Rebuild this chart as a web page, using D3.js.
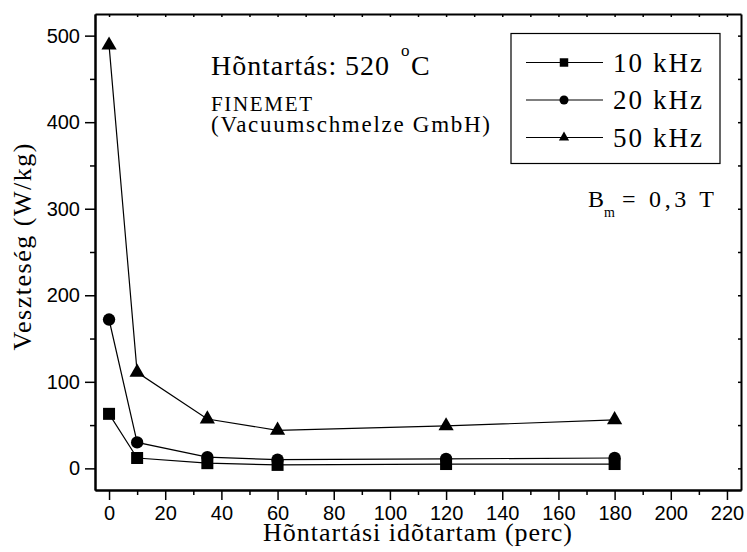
<!DOCTYPE html>
<html>
<head>
<meta charset="utf-8">
<script src="https://cdn.jsdelivr.net/npm/d3@7"></script>
<style>
  body { margin: 0; background: #fff; }
  svg { display: block; }
  .axis path, .axis line { stroke: #000; }
  .axis text { font-family: "Liberation Sans", Arial, sans-serif; font-size: 20px; fill: #000; }
  .serif { font-family: "Liberation Serif", "Times New Roman", serif; fill: #000; }
</style>
</head>
<body>
<script>
  // data
  var times = [0, 10, 35, 60, 120, 180];
  var loss10 = [63, 12, 6, 4, 5, 5];
  var loss20 = [172, 30, 13, 10, 11, 12];
  var loss50 = [489, 111, 57, 44, 49, 56];
  var seriesNames = ['10 kHz', '20 kHz', '50 kHz'];

  var xMajorTicks = [0, 20, 40, 60, 80, 100, 120, 140, 160, 180, 200, 220];
  var xMinorTicks = [10, 30, 50, 70, 90, 110, 130, 150, 170, 190, 210];
  var yMajorTicks = [0, 100, 200, 300, 400, 500];
  var yMinorTicks = [50, 150, 250, 350, 450];

(function() {
  var width = 747;
  var height = 552;
  var plotLeft = 95, plotRight = 741, plotTop = 14, plotBottom = 490;

  var xScale = d3.scaleLinear().domain([-5, 225]).range([plotLeft, plotRight]);
  var yScale = d3.scaleLinear().domain([-25, 525]).range([plotBottom, plotTop]);

  var svg = d3.select('body')
    .append('svg')
    .attr('width', width)
    .attr('height', height);

  function styleAxis(g, w) {
    g.select('.domain').attr('stroke-width', w);
    g.selectAll('.tick line').attr('stroke-width', 1.5);
  }

  // bottom axis
  svg.append('g')
    .attr('class', 'axis')
    .attr('transform', `translate(0, ${plotBottom})`)
    .call(d3.axisBottom(xScale).tickValues(xMajorTicks).tickSize(10).tickSizeOuter(0).tickPadding(6))
    .call(styleAxis, 2);
  svg.append('g')
    .attr('class', 'axis')
    .attr('transform', `translate(0, ${plotBottom})`)
    .call(d3.axisBottom(xScale).tickValues(xMinorTicks).tickSize(5).tickSizeOuter(0).tickFormat(''))
    .call(styleAxis, 2);

  // left axis
  svg.append('g')
    .attr('class', 'axis')
    .attr('transform', `translate(${plotLeft}, 0)`)
    .call(d3.axisLeft(yScale).tickValues(yMajorTicks).tickSize(10).tickSizeOuter(0).tickPadding(5))
    .call(styleAxis, 2);
  svg.append('g')
    .attr('class', 'axis')
    .attr('transform', `translate(${plotLeft}, 0)`)
    .call(d3.axisLeft(yScale).tickValues(yMinorTicks).tickSize(5).tickSizeOuter(0).tickFormat(''))
    .call(styleAxis, 2);

  // top and right mirror axes, small inward ticks
  svg.append('g')
    .attr('class', 'axis')
    .attr('transform', `translate(0, ${plotTop})`)
    .call(d3.axisTop(xScale).tickValues(xMajorTicks.concat(xMinorTicks)).tickSize(-3).tickSizeOuter(0).tickFormat(''))
    .call(styleAxis, 2);
  svg.append('g')
    .attr('class', 'axis')
    .attr('transform', `translate(${plotRight}, 0)`)
    .call(d3.axisRight(yScale).tickValues(yMajorTicks.concat(yMinorTicks)).tickSize(-3).tickSizeOuter(0).tickFormat(''))
    .call(styleAxis, 2);

  // series
  var series = [
    { name: seriesNames[0], values: loss10, symbol: d3.symbolSquare, size: 144, legendSize: 72 },
    { name: seriesNames[1], values: loss20, symbol: d3.symbolCircle, size: 120, legendSize: 64 },
    { name: seriesNames[2], values: loss50, symbol: d3.symbolTriangle, size: 100, legendSize: 45 }
  ];

  var line = d3.line()
    .x(d => xScale(d[0]))
    .y(d => yScale(d[1]));

  series.forEach(function(s) {
    var pts = times.map((t, i) => [t, s.values[i]]);
    svg.append('path')
      .datum(pts)
      .attr('d', line)
      .attr('fill', 'none')
      .attr('stroke', '#000')
      .attr('stroke-width', 1.2);
    svg.selectAll(null)
      .data(pts)
      .enter()
      .append('path')
      .attr('d', d3.symbol().type(s.symbol).size(s.size))
      .attr('transform', d => `translate(${xScale(d[0])}, ${yScale(d[1])})`)
      .attr('fill', '#000');
  });

  // legend
  var legend = svg.append('g');
  legend.append('rect')
    .attr('x', 511).attr('y', 33.5)
    .attr('width', 209).attr('height', 130)
    .attr('fill', '#fff').attr('stroke', '#000').attr('stroke-width', 1.2);
  series.forEach(function(s, i) {
    var cy = 62.5 + i * 37.5;
    legend.append('line')
      .attr('x1', 526).attr('x2', 603).attr('y1', cy).attr('y2', cy)
      .attr('stroke', '#000').attr('stroke-width', 1.2);
    legend.append('path')
      .attr('d', d3.symbol().type(s.symbol).size(s.legendSize))
      .attr('transform', `translate(564, ${cy})`)
      .attr('fill', '#000');
    legend.append('text')
      .attr('class', 'serif')
      .attr('x', 613).attr('y', cy + 9)
      .attr('font-size', 27)
      .attr('textLength', 89).attr('lengthAdjust', 'spacing')
      .text(s.name);
  });

  // annotations
  svg.append('text')
    .attr('class', 'serif')
    .attr('x', 211).attr('y', 75)
    .attr('font-size', 28)
    .attr('textLength', 178).attr('lengthAdjust', 'spacing')
    .text('Hõntartás: 520');
  svg.append('text')
    .attr('class', 'serif')
    .attr('x', 401).attr('y', 56)
    .attr('font-size', 17)
    .text('o');
  svg.append('text')
    .attr('class', 'serif')
    .attr('x', 411).attr('y', 75)
    .attr('font-size', 28)
    .text('C');

  svg.append('text')
    .attr('class', 'serif')
    .attr('x', 211).attr('y', 111)
    .attr('font-size', 21)
    .attr('textLength', 101).attr('lengthAdjust', 'spacing')
    .text('FINEMET');

  svg.append('text')
    .attr('class', 'serif')
    .attr('x', 211).attr('y', 132)
    .attr('font-size', 23)
    .attr('textLength', 279).attr('lengthAdjust', 'spacing')
    .text('(Vacuumschmelze GmbH)');

  svg.append('text')
    .attr('class', 'serif')
    .attr('x', 588).attr('y', 207)
    .attr('font-size', 24)
    .text('B');
  svg.append('text')
    .attr('class', 'serif')
    .attr('x', 604).attr('y', 217)
    .attr('font-size', 14)
    .text('m');
  svg.append('text')
    .attr('class', 'serif')
    .attr('x', 622).attr('y', 207)
    .attr('font-size', 24)
    .attr('textLength', 92).attr('lengthAdjust', 'spacing')
    .text('= 0,3 T');

  // axis titles
  svg.append('text')
    .attr('class', 'serif')
    .attr('text-anchor', 'middle')
    .attr('transform', 'translate(31, 247) rotate(-90)')
    .attr('font-size', 26)
    .attr('textLength', 207).attr('lengthAdjust', 'spacing')
    .text('Veszteség (W/kg)');

  svg.append('text')
    .attr('class', 'serif')
    .attr('text-anchor', 'middle')
    .attr('x', 417.5).attr('y', 541)
    .attr('font-size', 26)
    .attr('textLength', 309).attr('lengthAdjust', 'spacing')
    .text('Hõntartási idõtartam (perc)');
})();
</script>
</body>
</html>
